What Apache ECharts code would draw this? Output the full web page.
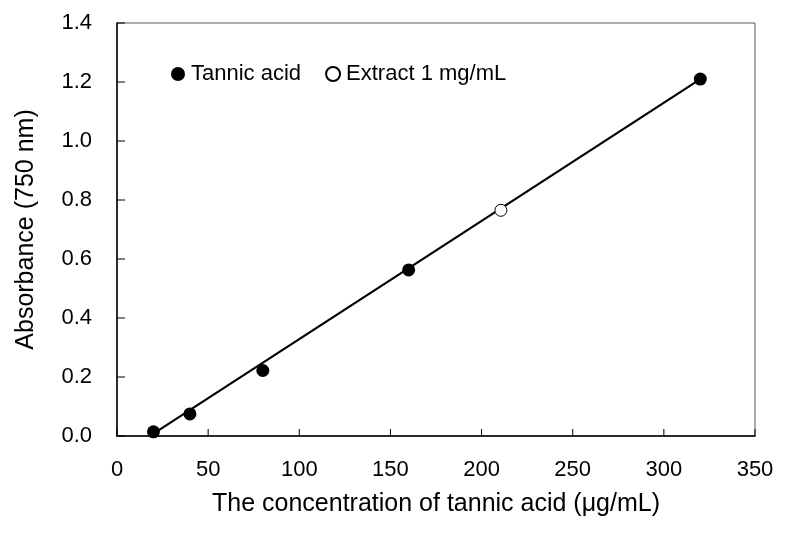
<!DOCTYPE html>
<html style="height: 100%">
<head>
    <meta charset="utf-8">
    <title>Tannic acid calibration</title>
    <script src="https://cdn.jsdelivr.net/npm/echarts/dist/echarts.min.js"></script>
</head>
<body style="height: 100%; margin: 0; background: #fff">
    <div id="main" style="width: 789px; height: 536px"></div>
    <script type="text/javascript">
        // standard points (tannic acid)
        var stdConc = [20, 40, 80, 160, 320];
        var stdAbs = [0.014, 0.075, 0.222, 0.563, 1.21];

        // extract sample
        var extConc = [210.6];
        var extAbs = [0.765];

        // fitted line endpoints
        var fitConc = [20, 320];
        var fitAbs = [0.008, 1.21];

        // tick values (marks drawn inside the frame)
        var xTicks = [0, 50, 100, 150, 200, 250, 300, 350];
        var yTicks = [0, 0.2, 0.4, 0.6, 0.8, 1.0, 1.2, 1.4];

        function pairs(xs, ys) {
            return xs.map(function (x, i) { return [x, ys[i]]; });
        }

        // inner tick marks: [x, y, dir] where dir 0 = x tick, 1 = y tick
        var tickData = xTicks.map(function (v) { return [v, 0, 0]; })
            .concat(yTicks.map(function (v) { return [0, v, 1]; }));

        var font = 'Liberation Sans, Arial, sans-serif';
        var myChart = echarts.init(document.getElementById('main'));

        var option = {
            backgroundColor: '#fff',
            animation: false,
            grid: {
                left: 117, right: 34, top: 23, bottom: 100,
                show: true, borderColor: '#595959', borderWidth: 1,
                backgroundColor: 'transparent'
            },
            legend: {
                left: 166, top: 58,
                itemWidth: 14, itemHeight: 14, itemGap: 24,
                textStyle: { fontFamily: font, fontSize: 22, color: '#000', padding: [0, 0, 0, 1] },
                data: [
                    { name: 'Tannic acid', icon: 'circle' },
                    { name: 'Extract 1 mg/mL', icon: 'circle' }
                ]
            },
            xAxis: {
                type: 'value', min: 0, max: 350, interval: 50,
                name: 'The concentration of tannic acid (μg/mL)',
                nameLocation: 'middle', nameGap: 56,
                nameTextStyle: { fontFamily: font, fontSize: 25, color: '#000' },
                axisLine: { onZero: false, lineStyle: { color: '#000', width: 1.5 } },
                axisTick: { show: false },
                axisLabel: {
                    fontFamily: font, fontSize: 22, color: '#000', margin: 23
                },
                splitLine: { show: false }
            },
            yAxis: {
                type: 'value', min: 0, max: 1.4, interval: 0.2,
                name: 'Absorbance (750 nm)',
                nameLocation: 'middle', nameGap: 78, nameRotate: 90,
                nameTextStyle: { fontFamily: font, fontSize: 25, color: '#000' },
                axisLine: { show: true, onZero: false, lineStyle: { color: '#000', width: 1.5 } },
                axisTick: { show: false },
                axisLabel: {
                    fontFamily: font, fontSize: 22, color: '#000', margin: 25,
                    formatter: function (v) { return v.toFixed(1); }
                },
                splitLine: { show: false }
            },
            series: [
                {
                    type: 'custom',
                    silent: true,
                    data: tickData,
                    encode: { x: 0, y: 1 },
                    renderItem: function (params, api) {
                        var p = api.coord([api.value(0), api.value(1)]);
                        var isY = api.value(2) === 1;
                        return {
                            type: 'line',
                            shape: isY
                                ? { x1: p[0], y1: p[1], x2: p[0] + 8, y2: p[1] }
                                : { x1: p[0], y1: p[1], x2: p[0], y2: p[1] - 7 },
                            style: { stroke: '#000', lineWidth: 1 }
                        };
                    },
                    z: 2
                },
                {
                    type: 'line',
                    data: pairs(fitConc, fitAbs),
                    symbol: 'none',
                    silent: true,
                    lineStyle: { color: '#000', width: 2.2 },
                    z: 1
                },
                {
                    name: 'Tannic acid',
                    type: 'scatter',
                    data: pairs(stdConc, stdAbs),
                    symbol: 'circle',
                    symbolSize: 13,
                    itemStyle: { color: '#000', opacity: 1 },
                    z: 3
                },
                {
                    name: 'Extract 1 mg/mL',
                    type: 'scatter',
                    data: pairs(extConc, extAbs),
                    symbol: 'circle',
                    symbolSize: 12,
                    itemStyle: { color: '#fff', borderColor: '#000', borderWidth: 1, opacity: 1 },
                    z: 3
                }
            ]
        };

        myChart.setOption(option);
    </script>
</body>
</html>
